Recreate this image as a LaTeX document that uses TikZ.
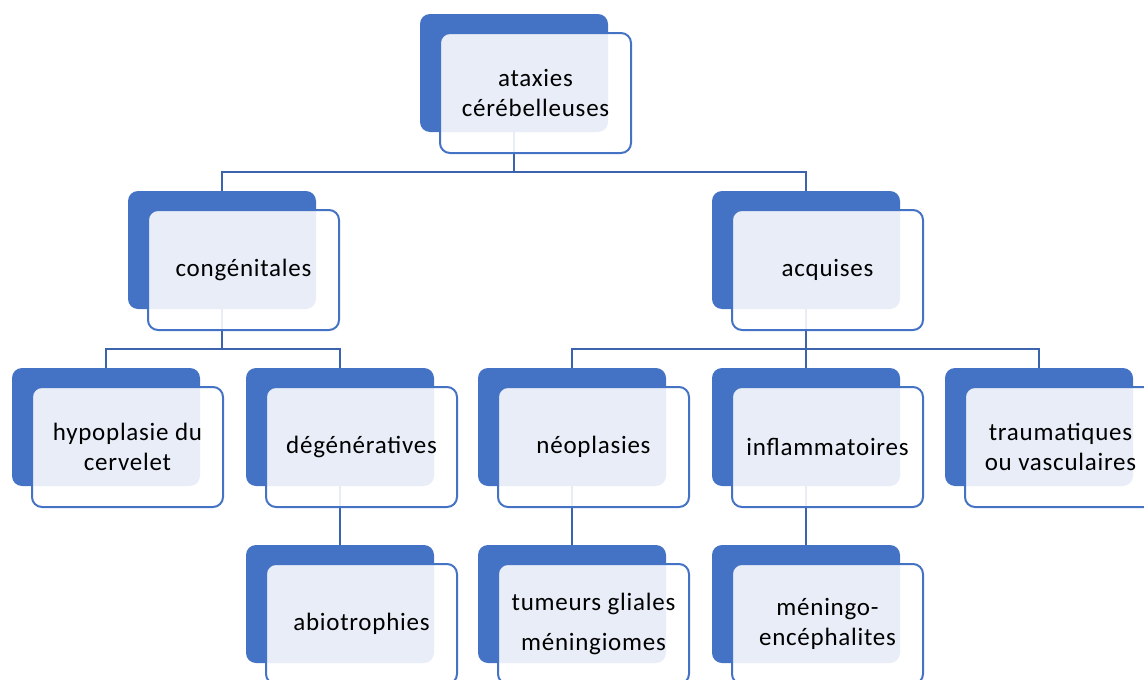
\documentclass[tikz,border=0pt]{standalone}
\usepackage{fontspec}
\setmainfont{Carlito}
\usepackage{tikz}
\usetikzlibrary{positioning,calc,backgrounds}
\definecolor{AtxBlue}{HTML}{4472C4}
\definecolor{AtxLink}{HTML}{3C64AE}
\definecolor{AtxInk}{HTML}{000000}

\tikzset{
  backbox/.style={fill=AtxBlue, rounded corners=10pt, inner sep=0pt,
    minimum width=188pt, minimum height=118pt},
  frontbox/.style={draw=AtxBlue, line width=2pt, fill=white, fill opacity=0.88,
    text opacity=1, text=AtxInk, rounded corners=10pt, align=center,
    minimum width=191pt, minimum height=120pt,
    font=\fontsize{25}{30}\selectfont\addfontfeature{LetterSpace=3}},
  link/.style={draw=AtxLink, line width=2.2pt},
}

\begin{document}
\begin{tikzpicture}[x=1pt,y=-1pt]
    \useasboundingbox (0,0) rectangle (1144,680);

    % blue back plates
    \node[backbox] (ataxie) at (514,73) {};
    \node[backbox] (cong) at (222,250) {};
    \node[backbox] (acq) at (806,250) {};
    \node[backbox] (hypo) at (106,427) {};
    \node[backbox] (degen) at (340,427) {};
    \node[backbox] (neo) at (572,427) {};
    \node[backbox] (infl) at (806,427) {};
    \node[backbox] (trauma) at (1039,427) {};
    \node[backbox] (abio) at (340,604) {};
    \node[backbox] (tum) at (572,604) {};
    \node[backbox] (mening) at (806,604) {};

    % light front cards with the texts
    \node[frontbox] (ataxieF) at ($(ataxie)+(21.5,20)$) {ataxies\\cérébelleuses};
    \node[frontbox] (congF) at ($(cong)+(21.5,20)$) {congénitales};
    \node[frontbox] (acqF) at ($(acq)+(21.5,20)$) {acquises};
    \node[frontbox] (hypoF) at ($(hypo)+(21.5,20)$) {hypoplasie du\\cervelet};
    \node[frontbox] (degenF) at ($(degen)+(21.5,20)$) {dégénératives};
    \node[frontbox] (neoF) at ($(neo)+(21.5,20)$) {néoplasies};
    \node[frontbox] (inflF) at ($(infl)+(21.5,20)$) {inflammatoires};
    \node[frontbox] (traumaF) at ($(trauma)+(21.5,20)$) {traumatiques\\ou vasculaires};
    \node[frontbox] (abioF) at ($(abio)+(21.5,20)$) {abiotrophies};
    \node[frontbox] (tumF) at ($(tum)+(21.5,20)$) {tumeurs gliales\\[10pt]méningiomes};
    \node[frontbox] (meningF) at ($(mening)+(21.5,20)$) {méningo-\\encéphalites};

    % elbow links, under the cards
    \begin{scope}[on background layer]
      \foreach \parent/\child in {ataxie/cong, ataxie/acq, cong/hypo, cong/degen,
          acq/neo, acq/infl, acq/trauma, degen/abio, neo/tum, infl/mening}
        \draw[link] (\parent.south) |- ([yshift=19pt]\child.north) -| (\child.north);
    \end{scope}
\end{tikzpicture}
\end{document}
